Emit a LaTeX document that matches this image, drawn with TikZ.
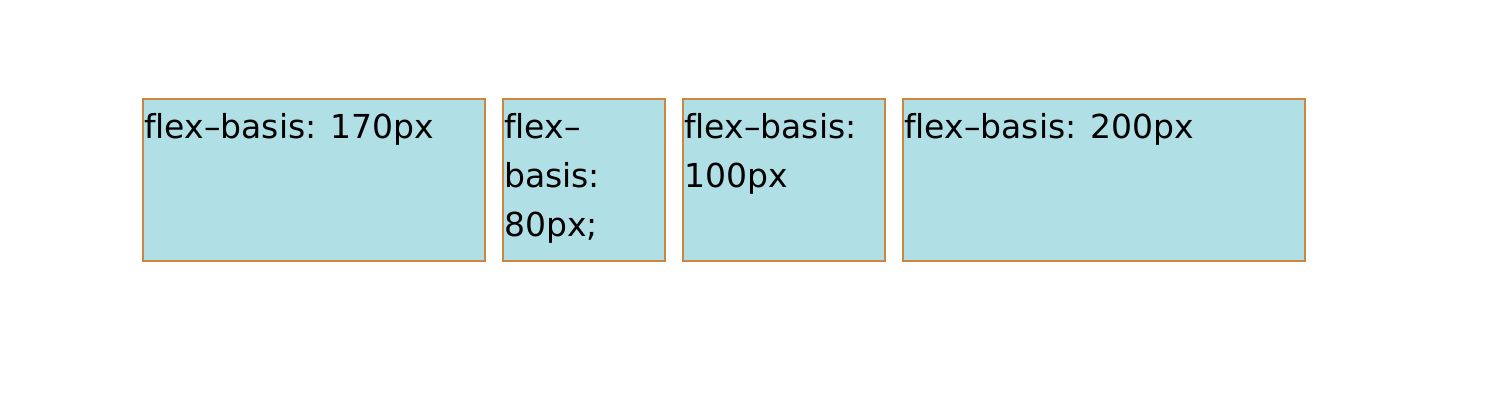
\documentclass[tikz,border=0pt]{standalone}
\usepackage{fontspec}
\setmainfont[Ligatures=NoCommon]{DejaVu Sans}
\definecolor{powderblue}{HTML}{B0E0E6}
\definecolor{peru}{HTML}{CD853F}
\tikzset{
  flexitem/.style={draw=peru, fill=powderblue, line width=1.6pt, anchor=north west,
    minimum height=162pt, inner sep=0pt},
  flexlabel/.style={anchor=north west, align=left, inner sep=0pt,
    font=\fontsize{33}{49}\selectfont}
}
\begin{document}
\begin{tikzpicture}[x=1pt,y=-1pt]
\useasboundingbox (0,0) rectangle (1492,416);
% flex items
\node[flexitem, minimum width=342pt] (item1) at (142,98) {};
\node[flexitem, minimum width=162pt] (item2) at (502,98) {};
\node[flexitem, minimum width=202pt] (item3) at (682,98) {};
\node[flexitem, minimum width=402pt] (item4) at (902,98) {};
% labels
\node[flexlabel] (label1) at (144,113) {flex–basis: 170px};
\node[flexlabel] (label2) at (504,113) {flex–\\basis:\\80px;};
\node[flexlabel] (label3) at (684,113) {flex–basis:\\100px};
\node[flexlabel] (label4) at (904,113) {flex–basis: 200px};
\end{tikzpicture}
\end{document}
